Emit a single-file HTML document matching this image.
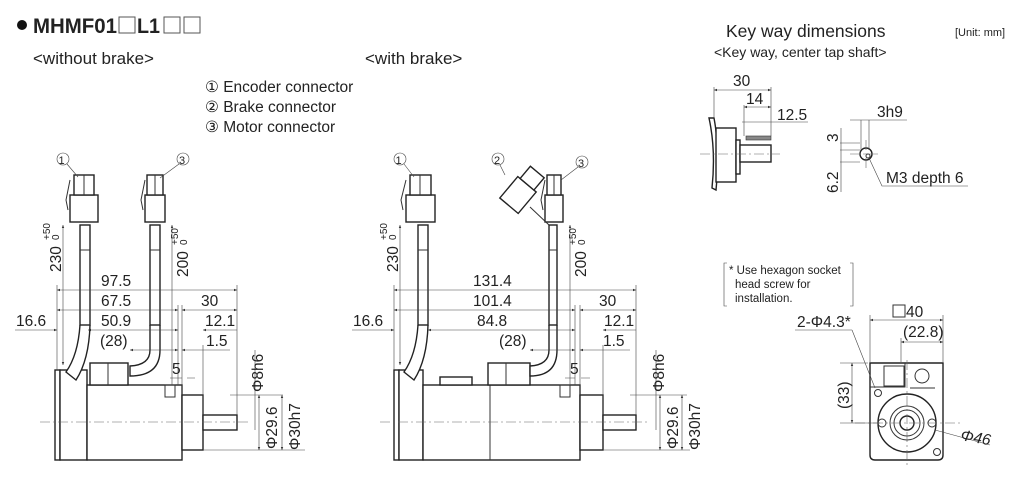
<!DOCTYPE html>
<html><head><meta charset="utf-8"><style>
html,body{margin:0;padding:0;background:#fff}
svg{display:block}
text{font-family:"Liberation Sans",Arial,sans-serif;fill:#222}
.l{stroke:#333;stroke-width:1;fill:none}
.t{stroke:#444;stroke-width:.6;fill:none}
.b{stroke:#222;stroke-width:1.4;fill:#fff}
.c{stroke:#666;stroke-width:.6;stroke-dasharray:10 3 2 3;fill:none}
.d{font-size:15.5px}
</style></head><body>
<svg width="1024" height="490" viewBox="0 0 1024 490" xmlns="http://www.w3.org/2000/svg">
<defs>
<marker id="a" viewBox="0 0 10 10" refX="10" refY="5" markerWidth="7" markerHeight="5" orient="auto-start-reverse"><path d="M0,1 L10,5 L0,9z" fill="#333"/></marker>
</defs>
<circle cx="22" cy="25" r="5" fill="#111"/>
<text x="33" y="33" textLength="84" lengthAdjust="spacingAndGlyphs" style="font-size:21px;font-weight:bold">MHMF01</text>
<rect x="119" y="17" width="16" height="16" stroke="#555" stroke-width="1" fill="none"/>
<text x="137" y="33" textLength="23" lengthAdjust="spacingAndGlyphs" style="font-size:21px;font-weight:bold">L1</text>
<rect x="164" y="17" width="16" height="16" stroke="#555" stroke-width="1" fill="none"/><rect x="184" y="17" width="16" height="16" stroke="#555" stroke-width="1" fill="none"/>
<text x="33" y="64" style="font-size:17px">&lt;without brake&gt;</text>
<text x="365" y="64" style="font-size:17px">&lt;with brake&gt;</text>
<text x="205" y="92" style="font-size:15.5px">① Encoder connector</text>
<text x="205" y="112" style="font-size:15.5px">② Brake connector</text>
<text x="205" y="132" style="font-size:15.5px">③ Motor connector</text>
<text x="726" y="37" style="font-size:17.5px">Key way dimensions</text>
<text x="714" y="57" style="font-size:14px">&lt;Key way, center tap shaft&gt;</text>
<text x="955" y="36" style="font-size:11px">[Unit: mm]</text>

<!-- LEFT MOTOR -->
<g>
<rect x="55" y="370" width="5" height="90" class="b"/>
<rect x="60" y="370" width="27" height="90" class="b"/>
<rect x="87" y="385" width="95" height="75" class="b"/>
<rect x="90" y="363" width="38" height="22" class="b"/>
<line x1="108" y1="363" x2="108" y2="385" class="l"/>
<rect x="165" y="385" width="10" height="12" class="l"/>
<rect x="182" y="395" width="21" height="55" class="b"/>
<rect x="203" y="415" width="34" height="15" class="b"/>
<line x1="40" y1="422" x2="250" y2="422" class="c"/>
<path d="M80,325 Q78,355 66,372 L76,380 Q89,360 90,325" class="b"/>
<path d="M150,325 L150,350 Q150,365 130,366 L130,376 Q160,376 160,350 L160,325" class="b"/>
<rect x="80" y="225" width="10" height="100" class="b"/><rect x="150" y="225" width="10" height="100" class="b"/>
<line x1="80" y1="250" x2="90" y2="250" class="l"/><line x1="150" y1="250" x2="160" y2="250" class="l"/>
<rect x="70" y="195" width="28" height="27" class="b"/><rect x="74" y="175" width="20" height="20" class="b"/>
<line x1="84" y1="175" x2="84" y2="195" class="l"/><path d="M70,180 L66,200 L68,210" class="l"/>
<rect x="145" y="195" width="20" height="27" class="b"/><rect x="147" y="175" width="16" height="20" class="b"/>
<line x1="155" y1="175" x2="155" y2="195" class="l"/><path d="M145,180 L141,200 L143,210" class="l"/>
<circle cx="63" cy="159" r="6" class="t"/><text x="58.5" y="164" style="font-size:11px">1</text><line x1="67" y1="164" x2="78" y2="177" class="t"/>
<circle cx="183" cy="159" r="6" class="t"/><text x="179" y="164" style="font-size:11px">3</text><line x1="179" y1="164" x2="160" y2="178" class="t"/>
<line x1="63" y1="225" x2="63" y2="365" class="t" marker-start="url(#a)" marker-end="url(#a)"/>
<line x1="172" y1="225" x2="172" y2="385" class="t" marker-start="url(#a)"/>
<text transform="translate(61,272) rotate(-90)" class="d">230</text><text transform="translate(50,240) rotate(-90)" style="font-size:10px">+50</text><text transform="translate(59,240) rotate(-90)" style="font-size:10px">0</text>
<text transform="translate(188,277) rotate(-90)" class="d">200</text><text transform="translate(178,245) rotate(-90)" style="font-size:10px">+50</text><text transform="translate(187,245) rotate(-90)" style="font-size:10px">0</text>
<line x1="57" y1="285" x2="57" y2="370" class="t"/><line x1="237" y1="285" x2="237" y2="415" class="t"/>
<line x1="182" y1="305" x2="182" y2="395" class="t"/><line x1="178" y1="305" x2="178" y2="385" class="t"/>
<line x1="203" y1="345" x2="203" y2="415" class="t"/>
<line x1="57" y1="290" x2="237" y2="290" class="t" marker-start="url(#a)" marker-end="url(#a)"/><text x="101" y="286" class="d">97.5</text>
<line x1="57" y1="310" x2="178" y2="310" class="t" marker-start="url(#a)" marker-end="url(#a)"/><text x="101" y="306" class="d">67.5</text>
<line x1="182" y1="310" x2="237" y2="310" class="t" marker-start="url(#a)" marker-end="url(#a)"/><text x="201" y="306" class="d">30</text>
<line x1="15" y1="330" x2="57" y2="330" class="t" marker-end="url(#a)"/><text x="16" y="326" class="d">16.6</text>
<line x1="88" y1="330" x2="178" y2="330" class="t" marker-start="url(#a)" marker-end="url(#a)"/><text x="101" y="326" class="d">50.9</text>
<line x1="203" y1="330" x2="237" y2="330" class="t" marker-start="url(#a)"/><text x="205" y="326" class="d">12.1</text>
<line x1="130" y1="350" x2="178" y2="350" class="t" marker-start="url(#a)" marker-end="url(#a)"/><text x="100" y="346" class="d">(28)</text>
<line x1="182" y1="350" x2="230" y2="350" class="t" marker-start="url(#a)"/><text x="206" y="346" class="d">1.5</text>
<path d="M170,378 L182,378 M195,378 L187,378" class="t"/><text x="172" y="374" class="d">5</text>
<line x1="255" y1="350" x2="255" y2="430" class="t"/><text transform="translate(263,392) rotate(-90)" class="d">Φ8h6</text>
<line x1="230" y1="395" x2="283" y2="395" class="t"/><line x1="203" y1="450" x2="305" y2="450" class="t"/>
<line x1="259" y1="395" x2="259" y2="450" class="t" marker-start="url(#a)" marker-end="url(#a)"/><text transform="translate(277,449) rotate(-90)" class="d">Φ29.6</text>
<line x1="282" y1="395" x2="282" y2="450" class="t" marker-start="url(#a)" marker-end="url(#a)"/><text transform="translate(300,450) rotate(-90)" class="d">Φ30h7</text>
</g>

<!-- RIGHT MOTOR -->
<g>
<rect x="394" y="370" width="5" height="90" class="b"/>
<rect x="399" y="370" width="24" height="90" class="b"/>
<rect x="423" y="385" width="157" height="75" class="b"/>
<line x1="490" y1="385" x2="490" y2="460" class="l"/>
<rect x="440" y="377" width="32" height="8" class="b"/>
<rect x="488" y="363" width="42" height="22" class="b"/>
<line x1="506" y1="363" x2="506" y2="385" class="l"/>
<rect x="560" y="385" width="10" height="12" class="l"/>
<rect x="580" y="395" width="23" height="55" class="b"/>
<rect x="603" y="415" width="33" height="15" class="b"/>
<line x1="380" y1="422" x2="650" y2="422" class="c"/>
<path d="M418,325 Q416,355 404,372 L414,380 Q427,360 428,325" class="b"/>
<path d="M549,325 L549,350 Q549,365 530,366 L530,376 Q557,376 557,350 L557,325" class="b"/>
<rect x="418" y="225" width="10" height="100" class="b"/><rect x="549" y="225" width="8" height="100" class="b"/>
<line x1="418" y1="250" x2="428" y2="250" class="l"/><line x1="549" y1="250" x2="557" y2="250" class="l"/>
<rect x="406" y="195" width="29" height="27" class="b"/><rect x="410" y="175" width="21" height="20" class="b"/>
<line x1="420" y1="175" x2="420" y2="195" class="l"/><path d="M406,180 L401,200 L403,210" class="l"/>
<rect x="545" y="195" width="18" height="27" class="b"/><rect x="547" y="175" width="14" height="20" class="b"/>
<line x1="554" y1="175" x2="554" y2="195" class="l"/><path d="M545,180 L541,200 L543,210" class="l"/>
<g transform="translate(518,195) rotate(40)"><rect x="-12" y="-14" width="24" height="28" class="b"/><rect x="-9" y="-30" width="18" height="16" class="b"/></g>
<path d="M530,207 L549,225" class="l"/>
<circle cx="400" cy="159" r="6" class="t"/><text x="395.5" y="164" style="font-size:11px">1</text><line x1="404" y1="164" x2="414" y2="177" class="t"/>
<circle cx="498" cy="159" r="6" class="t"/><text x="494" y="164" style="font-size:11px">2</text><line x1="500" y1="165" x2="505" y2="175" class="t"/>
<circle cx="582" cy="162" r="6" class="t"/><text x="578" y="167" style="font-size:11px">3</text><line x1="578" y1="167" x2="561" y2="180" class="t"/>
<line x1="400" y1="225" x2="400" y2="365" class="t" marker-start="url(#a)" marker-end="url(#a)"/>
<line x1="570" y1="225" x2="570" y2="385" class="t" marker-start="url(#a)"/>
<text transform="translate(398,272) rotate(-90)" class="d">230</text><text transform="translate(387,240) rotate(-90)" style="font-size:10px">+50</text><text transform="translate(396,240) rotate(-90)" style="font-size:10px">0</text>
<text transform="translate(586,277) rotate(-90)" class="d">200</text><text transform="translate(576,245) rotate(-90)" style="font-size:10px">+50</text><text transform="translate(585,245) rotate(-90)" style="font-size:10px">0</text>
<line x1="394" y1="285" x2="394" y2="370" class="t"/><line x1="636" y1="285" x2="636" y2="415" class="t"/>
<line x1="580" y1="305" x2="580" y2="395" class="t"/><line x1="575" y1="305" x2="575" y2="385" class="t"/>
<line x1="603" y1="345" x2="603" y2="415" class="t"/>
<line x1="394" y1="290" x2="636" y2="290" class="t" marker-start="url(#a)" marker-end="url(#a)"/><text x="473" y="286" class="d">131.4</text>
<line x1="394" y1="310" x2="575" y2="310" class="t" marker-start="url(#a)" marker-end="url(#a)"/><text x="473" y="306" class="d">101.4</text>
<line x1="580" y1="310" x2="636" y2="310" class="t" marker-start="url(#a)" marker-end="url(#a)"/><text x="599" y="306" class="d">30</text>
<line x1="352" y1="330" x2="394" y2="330" class="t" marker-end="url(#a)"/><text x="353" y="326" class="d">16.6</text>
<line x1="428" y1="330" x2="575" y2="330" class="t" marker-start="url(#a)" marker-end="url(#a)"/><text x="477" y="326" class="d">84.8</text>
<line x1="603" y1="330" x2="636" y2="330" class="t" marker-start="url(#a)"/><text x="604" y="326" class="d">12.1</text>
<line x1="530" y1="350" x2="575" y2="350" class="t" marker-start="url(#a)" marker-end="url(#a)"/><text x="499" y="346" class="d">(28)</text>
<line x1="580" y1="350" x2="630" y2="350" class="t" marker-start="url(#a)"/><text x="603" y="346" class="d">1.5</text>
<path d="M565,378 L575,378 M590,378 L581,378" class="t"/><text x="570" y="374" class="d">5</text>
<line x1="656" y1="350" x2="656" y2="430" class="t"/><text transform="translate(664,392) rotate(-90)" class="d">Φ8h6</text>
<line x1="630" y1="395" x2="687" y2="395" class="t"/><line x1="603" y1="450" x2="690" y2="450" class="t"/>
<line x1="660" y1="395" x2="660" y2="450" class="t" marker-start="url(#a)" marker-end="url(#a)"/><text transform="translate(678,449) rotate(-90)" class="d">Φ29.6</text>
<line x1="682" y1="395" x2="682" y2="450" class="t" marker-start="url(#a)" marker-end="url(#a)"/><text transform="translate(700,450) rotate(-90)" class="d">Φ30h7</text>
</g>

<!-- KEYWAY -->
<g>
<path d="M709,118 Q716,150 712,188 L716,190 Q720,150 714,118Z" class="b"/>
<rect x="716" y="128" width="20" height="54" class="b"/>
<rect x="736" y="140" width="4" height="34" class="b"/>
<rect x="740" y="145" width="31" height="17" class="b"/>
<rect x="746" y="136" width="25" height="4" fill="#888" stroke="#333" stroke-width=".6"/>
<line x1="700" y1="154" x2="780" y2="154" class="c"/>
<line x1="714" y1="87" x2="714" y2="118" class="t"/><line x1="771" y1="87" x2="771" y2="136" class="t"/>
<line x1="744" y1="105" x2="744" y2="136" class="t"/>
<line x1="714" y1="90" x2="771" y2="90" class="t" marker-start="url(#a)" marker-end="url(#a)"/><text x="733" y="86" class="d">30</text>
<line x1="744" y1="107" x2="771" y2="107" class="t" marker-start="url(#a)" marker-end="url(#a)"/><text x="746" y="104" class="d">14</text>
<line x1="742" y1="122" x2="808" y2="122" class="t"/><text x="777" y="120" class="d">12.5</text>
<circle cx="866" cy="154" r="6" class="b"/><circle cx="868" cy="156" r="2" class="l"/>
<line x1="850" y1="154" x2="880" y2="154" class="c"/><line x1="866" y1="140" x2="866" y2="168" class="c"/>
<line x1="861" y1="120" x2="861" y2="150" class="t"/><line x1="869" y1="120" x2="869" y2="150" class="t"/>
<line x1="850" y1="120" x2="907" y2="120" class="t"/><text x="877" y="117" class="d">3h9</text>
<line x1="840" y1="143" x2="860" y2="143" class="t"/><line x1="840" y1="150" x2="860" y2="150" class="t"/><line x1="840" y1="162" x2="860" y2="162" class="t"/>
<line x1="841" y1="128" x2="841" y2="192" class="t"/>
<text transform="translate(838,142) rotate(-90)" class="d">3</text>
<text transform="translate(838,193) rotate(-90)" class="d">6.2</text>
<path d="M869,158 L882,186 L968,186" class="t"/><text x="886" y="183" class="d">M3 depth 6</text>
</g>

<!-- NOTE -->
<path d="M727,263 L724,263 L724,306 L727,306 M850,263 L853,263 L853,306 L850,306" class="t"/>
<text x="729" y="274" style="font-size:11.5px">* Use hexagon socket</text>
<text x="735" y="288" style="font-size:11.5px">head screw for</text>
<text x="735" y="302" style="font-size:11.5px">installation.</text>

<!-- FLANGE VIEW -->
<g>
<path d="M870,363 L943,363 L943,455 Q943,460 938,460 L875,460 Q870,460 870,455Z" class="b"/>
<path d="M905,363 L905,387 L870,387" class="l"/>
<rect x="884" y="366" width="20" height="20" class="l"/>
<path d="M910,388 L935,388" class="l"/>
<circle cx="922" cy="376" r="7" class="l"/>
<circle cx="907" cy="423" r="29" class="b"/>
<circle cx="907" cy="423" r="17" class="l"/><circle cx="907" cy="423" r="13" class="l"/><circle cx="907" cy="423" r="7" class="b"/>
<circle cx="882" cy="423" r="4" class="l"/><circle cx="932" cy="423" r="4" class="l"/>
<circle cx="878" cy="393" r="3.5" class="l"/><circle cx="937" cy="452" r="3.5" class="l"/>
<line x1="855" y1="423" x2="960" y2="423" class="c"/><line x1="907" y1="360" x2="907" y2="468" class="c"/>
<line x1="870" y1="315" x2="870" y2="362" class="t"/><line x1="943" y1="315" x2="943" y2="362" class="t"/>
<line x1="870" y1="320" x2="943" y2="320" class="t" marker-start="url(#a)" marker-end="url(#a)"/>
<rect x="893" y="305" width="12" height="12" class="l"/><text x="906" y="317" class="d">40</text>
<line x1="901" y1="338" x2="901" y2="362" class="t"/>
<line x1="901" y1="342" x2="943" y2="342" class="t" marker-start="url(#a)" marker-end="url(#a)"/><text x="903" y="337" class="d">(22.8)</text>
<line x1="795" y1="330" x2="852" y2="330" class="t"/><text x="797" y="327" class="d">2-Φ4.3*</text>
<line x1="852" y1="330" x2="875" y2="388" class="t"/>
<line x1="840" y1="363" x2="868" y2="363" class="t"/><line x1="840" y1="423" x2="880" y2="423" class="t"/>
<line x1="852" y1="363" x2="852" y2="423" class="t" marker-start="url(#a)" marker-end="url(#a)"/>
<text transform="translate(849,409) rotate(-90)" class="d">(33)</text>
<line x1="935" y1="430" x2="990" y2="445" class="t"/><text transform="translate(960,440) rotate(10)" class="d" font-style="italic">Φ46</text>
</g>
</svg>
</body></html>
